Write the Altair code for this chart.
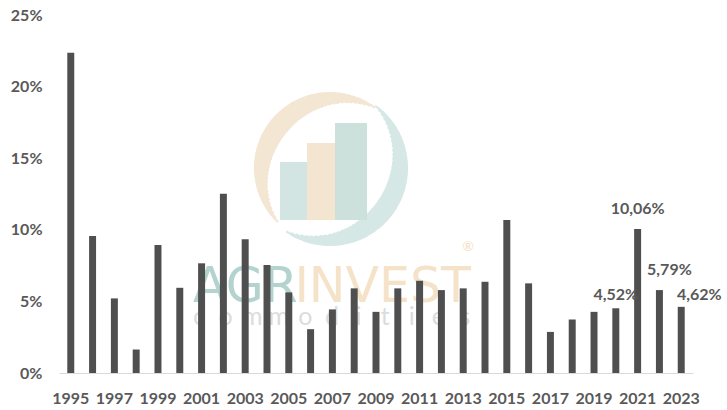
import math
import altair as alt
import pandas as pd

# Annual values (%), 1995-2023
years = list(range(1995, 2024))
values = [22.37, 9.57, 5.21, 1.64, 8.94, 5.95, 7.66, 12.51, 9.34, 7.54,
          5.63, 3.06, 4.44, 5.91, 4.27, 5.91, 6.44, 5.79, 5.91, 6.37,
          10.69, 6.26, 2.87, 3.74, 4.27, 4.52, 10.06, 5.79, 4.62]

# Years carrying a value label
labelled_years = [2020, 2021, 2022, 2023]

df = pd.DataFrame({"year": [str(y) for y in years], "value": [v / 100 for v in values]})
df["label"] = [f"{v:.2f}%".replace(".", ",") for v in values]

TXT = "#595959"
FONT = "Lato"
LOGO_FONT = "DejaVu Sans"
LEFT = 59  # plot area offset from the left edge
one = alt.Data(values=[{}])  # single-row source for decorative marks

x_enc = alt.X(
    "year:N",
    sort=None,
    scale=alt.Scale(paddingInner=0.68, paddingOuter=0.38),
    axis=alt.Axis(
        title=None, labelAngle=0, labelFont=FONT, labelFontSize=16, labelFontWeight="bold",
        labelColor=TXT, ticks=False, domainColor="#d9d9d9", domainWidth=1,
        labelPadding=17, values=[str(y) for y in years[::2]], labelOverlap=False,
    ),
)
y_enc = alt.Y(
    "value:Q",
    scale=alt.Scale(domain=[0, 0.25], nice=False),
    axis=alt.Axis(
        title=None, format=".0%", values=[0, 0.05, 0.10, 0.15, 0.20, 0.25],
        grid=False, domain=False, ticks=False, labelFont=FONT, labelFontSize=16,
        labelFontWeight="bold", labelColor=TXT, labelPadding=17,
    ),
)

bars = alt.Chart(df).mark_bar(color="#4f4f4f").encode(x=x_enc, y=y_enc)

# ---- faint company logo watermark (pixel positions inside the plot area) ----
CX, CY = 330 - LEFT, 168 - 15  # logo centre


def crescent(theta_from, theta_to, r_out, max_thick, color, n=48):
    """Tapered ring built from short arc segments."""
    layers = []
    step = (theta_to - theta_from) / n
    for i in range(n):
        t0 = theta_from + i * step
        t1 = t0 + step + 0.6
        mid = (i + 0.5) / n
        thick = 1.5 + (max_thick - 1.5) * math.sin(math.pi * mid)
        layers.append(
            alt.Chart(one).mark_arc(color=color).encode(
                x=alt.value(CX), y=alt.value(CY),
                theta=alt.value(math.radians(t0)), theta2=alt.value(math.radians(t1)),
                radius=alt.value(r_out), radius2=alt.value(r_out - thick),
            )
        )
    return layers


arc_orange = crescent(224, 396, 76, 20, "#f3e6d3")
arc_teal = crescent(36, 214, 78, 20, "#d5e8e5")

logo_bars = [
    alt.Chart(one).mark_rect(color=c).encode(
        x=alt.value(x0 - LEFT), x2=alt.value(x1 - LEFT), y=alt.value(y0 - 15), y2=alt.value(220 - 15)
    )
    for x0, x1, y0, c in [(280, 307, 162, "#d3e5e2"), (307, 335, 143, "#f3e5d0"), (335, 367, 123, "#cce0dc")]
]

wm_a = alt.Chart(one).mark_text(
    text="AGR", font=LOGO_FONT, fontSize=49, color="#b3d3cf",
    align="left", baseline="alphabetic"
).encode(x=alt.value(193 - LEFT), y=alt.value(287))
wm_b = alt.Chart(one).mark_text(
    text="INVEST", font=LOGO_FONT, fontSize=49, color="#f5e3c9",
    align="right", baseline="alphabetic"
).encode(x=alt.value(471 - LEFT), y=alt.value(287))
wm_r = alt.Chart(one).mark_text(
    text="®", font=FONT, fontSize=14, color="#f4dfc0"
).encode(x=alt.value(468 - LEFT), y=alt.value(232))
wm_c = [
    alt.Chart(one).mark_text(text=ch, font=FONT, fontSize=25, color="#dcdcdc").encode(
        x=alt.value(199 - LEFT + i * 26.6), y=alt.value(302)
    )
    for i, ch in enumerate("commodities")
]

# ---- value labels ----
label_style = dict(font=FONT, fontSize=16, fontWeight="bold", color=TXT, baseline="middle")
offsets = {2020: (0, -13), 2021: (0, -20), 2022: (10, -20), 2023: (18, -12)}
labels = []
for yr in labelled_years:
    dx, dy = offsets[yr]
    labels.append(
        alt.Chart(df).transform_filter(alt.datum.year == str(yr))
        .mark_text(dx=dx, dy=dy, **label_style)
        .encode(x=alt.X("year:N", sort=None), y="value:Q", text="label:N")
    )

chart = alt.layer(
    *arc_orange, *arc_teal, *logo_bars, wm_a, wm_b, wm_r, *wm_c, bars, *labels
).properties(
    width=634, height=358,
    background="white",
    autosize=alt.AutoSizeParams(type="none"),
    padding={"left": LEFT, "top": 15, "right": 727 - LEFT - 634, "bottom": 37},
).configure_view(stroke=None)

chart.save("out.html", embed_options={"renderer": "svg", "actions": False})
